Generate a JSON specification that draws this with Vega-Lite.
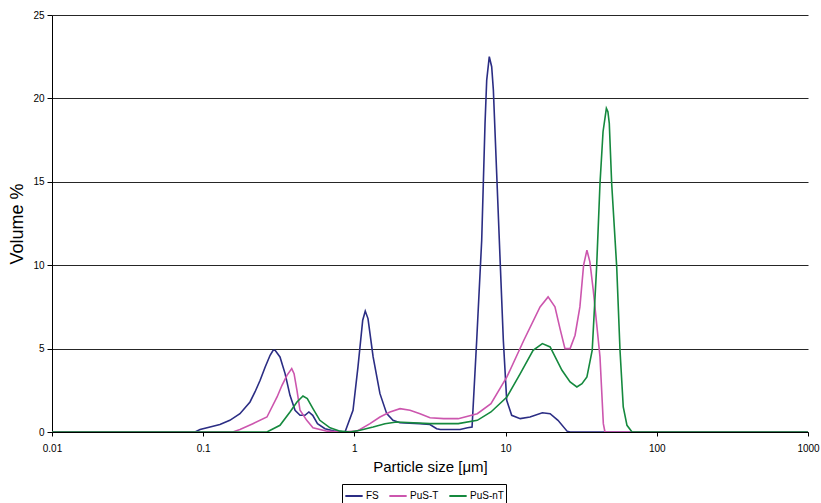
{
  "$schema": "https://vega.github.io/schema/vega-lite/v6.json",
  "width": 756,
  "height": 417,
  "autosize": "none",
  "padding": {"left": 52, "top": 15, "right": 13, "bottom": 71},
  "background": "white",
  "config": {
    "font": "Liberation Sans",
    "view": {"stroke": null}
  },
  "data": {
    "values": [
      {"series": "FS", "size": 0.01, "vol": 0},
      {"series": "FS", "size": 0.0883, "vol": 0},
      {"series": "FS", "size": 0.0953, "vol": 0.15},
      {"series": "FS", "size": 0.111, "vol": 0.3},
      {"series": "FS", "size": 0.129, "vol": 0.45},
      {"series": "FS", "size": 0.15, "vol": 0.7},
      {"series": "FS", "size": 0.175, "vol": 1.1},
      {"series": "FS", "size": 0.204, "vol": 1.8},
      {"series": "FS", "size": 0.22, "vol": 2.4},
      {"series": "FS", "size": 0.238, "vol": 3.1},
      {"series": "FS", "size": 0.257, "vol": 3.9},
      {"series": "FS", "size": 0.277, "vol": 4.6},
      {"series": "FS", "size": 0.29, "vol": 4.9},
      {"series": "FS", "size": 0.299, "vol": 4.9},
      {"series": "FS", "size": 0.322, "vol": 4.5},
      {"series": "FS", "size": 0.348, "vol": 3.5},
      {"series": "FS", "size": 0.375, "vol": 2.2},
      {"series": "FS", "size": 0.405, "vol": 1.3},
      {"series": "FS", "size": 0.437, "vol": 1.0},
      {"series": "FS", "size": 0.471, "vol": 1.0},
      {"series": "FS", "size": 0.5, "vol": 1.2},
      {"series": "FS", "size": 0.53, "vol": 1.0},
      {"series": "FS", "size": 0.57, "vol": 0.5},
      {"series": "FS", "size": 0.639, "vol": 0.2},
      {"series": "FS", "size": 0.745, "vol": 0.05},
      {"series": "FS", "size": 0.867, "vol": 0},
      {"series": "FS", "size": 0.979, "vol": 1.3},
      {"series": "FS", "size": 1.056, "vol": 3.9},
      {"series": "FS", "size": 1.135, "vol": 6.7},
      {"series": "FS", "size": 1.18, "vol": 7.25},
      {"series": "FS", "size": 1.23, "vol": 6.8},
      {"series": "FS", "size": 1.33, "vol": 4.5},
      {"series": "FS", "size": 1.476, "vol": 2.3},
      {"series": "FS", "size": 1.636, "vol": 1.1},
      {"series": "FS", "size": 1.8, "vol": 0.7},
      {"series": "FS", "size": 2.0, "vol": 0.55},
      {"series": "FS", "size": 2.7, "vol": 0.5},
      {"series": "FS", "size": 3.16, "vol": 0.45},
      {"series": "FS", "size": 3.5, "vol": 0.2},
      {"series": "FS", "size": 3.7, "vol": 0.15},
      {"series": "FS", "size": 5.0, "vol": 0.15},
      {"series": "FS", "size": 5.6, "vol": 0.25},
      {"series": "FS", "size": 6.0, "vol": 0.3},
      {"series": "FS", "size": 6.44, "vol": 5.5},
      {"series": "FS", "size": 6.95, "vol": 11.5},
      {"series": "FS", "size": 7.31, "vol": 18.5},
      {"series": "FS", "size": 7.5, "vol": 21.1},
      {"series": "FS", "size": 7.8, "vol": 22.5},
      {"series": "FS", "size": 8.09, "vol": 21.9},
      {"series": "FS", "size": 8.3, "vol": 20.5},
      {"series": "FS", "size": 8.73, "vol": 15.5},
      {"series": "FS", "size": 9.18, "vol": 10.5},
      {"series": "FS", "size": 9.66, "vol": 5.5},
      {"series": "FS", "size": 10.17, "vol": 1.9},
      {"series": "FS", "size": 10.97, "vol": 1.0},
      {"series": "FS", "size": 12.5, "vol": 0.8},
      {"series": "FS", "size": 14.5, "vol": 0.9},
      {"series": "FS", "size": 17.5, "vol": 1.15},
      {"series": "FS", "size": 19.7, "vol": 1.1},
      {"series": "FS", "size": 22.2, "vol": 0.7},
      {"series": "FS", "size": 25.5, "vol": 0.05},
      {"series": "FS", "size": 26.7, "vol": 0},
      {"series": "FS", "size": 1000, "vol": 0},

      {"series": "PuS-T", "size": 0.01, "vol": 0},
      {"series": "PuS-T", "size": 0.157, "vol": 0},
      {"series": "PuS-T", "size": 0.175, "vol": 0.15},
      {"series": "PuS-T", "size": 0.213, "vol": 0.5},
      {"series": "PuS-T", "size": 0.264, "vol": 0.9},
      {"series": "PuS-T", "size": 0.308, "vol": 2.1},
      {"series": "PuS-T", "size": 0.332, "vol": 2.8},
      {"series": "PuS-T", "size": 0.358, "vol": 3.4},
      {"series": "PuS-T", "size": 0.385, "vol": 3.8},
      {"series": "PuS-T", "size": 0.399, "vol": 3.5},
      {"series": "PuS-T", "size": 0.417, "vol": 2.5},
      {"series": "PuS-T", "size": 0.437, "vol": 1.3},
      {"series": "PuS-T", "size": 0.484, "vol": 0.7},
      {"series": "PuS-T", "size": 0.532, "vol": 0.25},
      {"series": "PuS-T", "size": 0.66, "vol": 0.05},
      {"series": "PuS-T", "size": 0.804, "vol": 0},
      {"series": "PuS-T", "size": 1.04, "vol": 0.05},
      {"series": "PuS-T", "size": 1.268, "vol": 0.5},
      {"series": "PuS-T", "size": 1.476, "vol": 0.9},
      {"series": "PuS-T", "size": 1.719, "vol": 1.2},
      {"series": "PuS-T", "size": 2.003, "vol": 1.4},
      {"series": "PuS-T", "size": 2.333, "vol": 1.3},
      {"series": "PuS-T", "size": 2.716, "vol": 1.1},
      {"series": "PuS-T", "size": 3.162, "vol": 0.85},
      {"series": "PuS-T", "size": 3.9, "vol": 0.8},
      {"series": "PuS-T", "size": 4.86, "vol": 0.8},
      {"series": "PuS-T", "size": 6.5, "vol": 1.1},
      {"series": "PuS-T", "size": 8.0, "vol": 1.7},
      {"series": "PuS-T", "size": 10.2, "vol": 3.3},
      {"series": "PuS-T", "size": 13.2, "vol": 5.5},
      {"series": "PuS-T", "size": 16.9, "vol": 7.5},
      {"series": "PuS-T", "size": 19.1, "vol": 8.1},
      {"series": "PuS-T", "size": 21.2, "vol": 7.5},
      {"series": "PuS-T", "size": 22.9, "vol": 6.2},
      {"series": "PuS-T", "size": 24.7, "vol": 5.0},
      {"series": "PuS-T", "size": 26.7, "vol": 5.0},
      {"series": "PuS-T", "size": 28.8, "vol": 5.8},
      {"series": "PuS-T", "size": 31.0, "vol": 7.5},
      {"series": "PuS-T", "size": 32.8, "vol": 10.0},
      {"series": "PuS-T", "size": 34.5, "vol": 10.9},
      {"series": "PuS-T", "size": 36.1, "vol": 10.2},
      {"series": "PuS-T", "size": 38.0, "vol": 8.5},
      {"series": "PuS-T", "size": 40.0, "vol": 6.5},
      {"series": "PuS-T", "size": 42.1, "vol": 4.5},
      {"series": "PuS-T", "size": 44.3, "vol": 0.5},
      {"series": "PuS-T", "size": 45.4, "vol": 0},
      {"series": "PuS-T", "size": 1000, "vol": 0},

      {"series": "PuS-nT", "size": 0.01, "vol": 0},
      {"series": "PuS-nT", "size": 0.264, "vol": 0},
      {"series": "PuS-nT", "size": 0.322, "vol": 0.4},
      {"series": "PuS-nT", "size": 0.375, "vol": 1.2},
      {"series": "PuS-nT", "size": 0.417, "vol": 1.8},
      {"series": "PuS-nT", "size": 0.457, "vol": 2.16},
      {"series": "PuS-nT", "size": 0.488, "vol": 2.0},
      {"series": "PuS-nT", "size": 0.532, "vol": 1.4},
      {"series": "PuS-nT", "size": 0.591, "vol": 0.7},
      {"series": "PuS-nT", "size": 0.69, "vol": 0.25},
      {"series": "PuS-nT", "size": 0.804, "vol": 0.05},
      {"series": "PuS-nT", "size": 0.935, "vol": 0},
      {"series": "PuS-nT", "size": 1.089, "vol": 0.1},
      {"series": "PuS-nT", "size": 1.33, "vol": 0.3},
      {"series": "PuS-nT", "size": 1.593, "vol": 0.5},
      {"series": "PuS-nT", "size": 1.9, "vol": 0.6},
      {"series": "PuS-nT", "size": 3.16, "vol": 0.5},
      {"series": "PuS-nT", "size": 4.86, "vol": 0.5},
      {"series": "PuS-nT", "size": 6.5, "vol": 0.7},
      {"series": "PuS-nT", "size": 8.0, "vol": 1.2},
      {"series": "PuS-nT", "size": 10.2, "vol": 2.1},
      {"series": "PuS-nT", "size": 12.5, "vol": 3.5},
      {"series": "PuS-nT", "size": 15.2, "vol": 4.9},
      {"series": "PuS-nT", "size": 17.5, "vol": 5.3},
      {"series": "PuS-nT", "size": 19.7, "vol": 5.1},
      {"series": "PuS-nT", "size": 23.6, "vol": 3.7},
      {"series": "PuS-nT", "size": 26.7, "vol": 3.0},
      {"series": "PuS-nT", "size": 29.6, "vol": 2.7},
      {"series": "PuS-nT", "size": 32.0, "vol": 2.9},
      {"series": "PuS-nT", "size": 34.5, "vol": 3.3},
      {"series": "PuS-nT", "size": 37.4, "vol": 4.9},
      {"series": "PuS-nT", "size": 40.0, "vol": 9.9},
      {"series": "PuS-nT", "size": 42.1, "vol": 14.9},
      {"series": "PuS-nT", "size": 44.1, "vol": 18.0},
      {"series": "PuS-nT", "size": 46.4, "vol": 19.4},
      {"series": "PuS-nT", "size": 47.5, "vol": 19.2},
      {"series": "PuS-nT", "size": 48.5, "vol": 18.5},
      {"series": "PuS-nT", "size": 50.3, "vol": 14.9},
      {"series": "PuS-nT", "size": 54.3, "vol": 9.9},
      {"series": "PuS-nT", "size": 57.1, "vol": 4.9},
      {"series": "PuS-nT", "size": 60.0, "vol": 1.5},
      {"series": "PuS-nT", "size": 63.5, "vol": 0.4},
      {"series": "PuS-nT", "size": 68.6, "vol": 0},
      {"series": "PuS-nT", "size": 1000, "vol": 0}
    ]
  },
  "mark": {"type": "line", "strokeWidth": 1.6, "clip": true},
  "encoding": {
    "x": {
      "field": "size",
      "type": "quantitative",
      "scale": {"type": "log", "domain": [0.01, 1000], "nice": false},
      "axis": {
        "title": "Particle size [μm]",
        "titleFont": "Liberation Sans",
        "titleFontSize": 15,
        "titleFontWeight": "normal",
        "titleColor": "black",
        "titlePadding": 6,
        "values": [0.01, 0.1, 1, 10, 100, 1000],
        "labelExpr": "'' + datum.value",
        "labelFontSize": 10,
        "labelColor": "black",
        "labelPadding": 7,
        "labelFlush": false,
        "tickColor": "black",
        "tickSize": 4,
        "domainColor": "black",
        "grid": false
      }
    },
    "y": {
      "field": "vol",
      "type": "quantitative",
      "scale": {"domain": [0, 25], "nice": false},
      "axis": {
        "title": "Volume %",
        "titleFont": "Liberation Sans",
        "titleFontSize": 18,
        "titleFontWeight": "normal",
        "titleColor": "black",
        "titlePadding": 6,
        "values": [0, 5, 10, 15, 20, 25],
        "labelFontSize": 10,
        "labelColor": "black",
        "labelPadding": 3,
        "tickColor": "black",
        "tickSize": 5,
        "domainColor": "black",
        "grid": true,
        "gridColor": "black",
        "gridOpacity": 0.85,
        "gridWidth": 1
      }
    },
    "color": {
      "field": "series",
      "type": "nominal",
      "sort": ["FS", "PuS-T", "PuS-nT"],
      "scale": {"domain": ["FS", "PuS-T", "PuS-nT"], "range": ["#2b2d84", "#cc56ae", "#15893e"]},
      "legend": {
        "title": null,
        "orient": "none",
        "legendX": 290,
        "legendY": 469,
        "direction": "horizontal",
        "symbolType": "stroke",
        "symbolSize": 300,
        "symbolStrokeWidth": 2,
        "labelFont": "Liberation Sans",
        "labelFontSize": 10,
        "labelColor": "black",
        "labelOffset": 2,
        "columnPadding": 6,
        "strokeColor": "black",
        "padding": 2
      }
    }
  }
}
